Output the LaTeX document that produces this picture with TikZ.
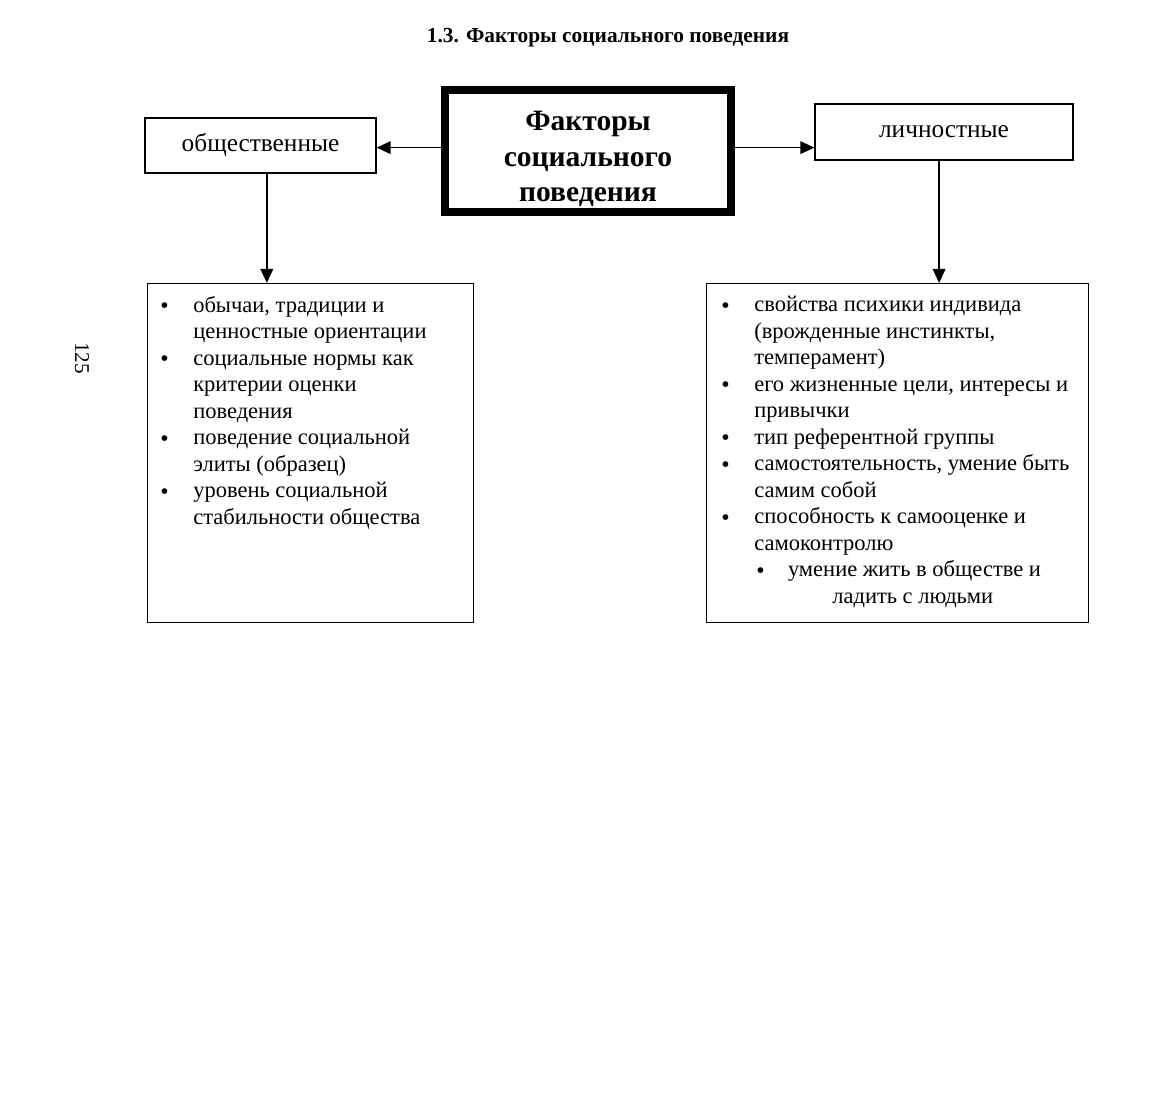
\documentclass[tikz,border=0pt]{standalone}
\usepackage{fontspec}
\setmainfont{Liberation Serif}
\usetikzlibrary{arrows.meta}

\newcommand{\bul}{\llap{\smash{\fontsize{17}{18}\selectfont\raisebox{-1pt}{\textbullet}}\hspace{17.5pt}}}
\newcommand{\subbul}{\llap{\smash{\fontsize{17}{18}\selectfont\raisebox{-1pt}{\textbullet}}\hspace{16.5pt}}}

\tikzset{
  box/.style={draw, line width=0.8pt, inner sep=0pt},
  items/.style={anchor=north west, align=left, inner sep=0pt, font=\fontsize{16}{18.85}\selectfont},
  arr/.style={line width=1pt, -{Triangle[length=10pt,width=9pt]}},
}

\begin{document}
\begin{tikzpicture}[x=0.025cm, y=-0.025cm]
\useasboundingbox (0,0) rectangle (1165,1096);

\draw (608,38) node (title) {\fontsize{15.2}{18}\selectfont\bfseries 1.3. Факторы социального поведения};
\draw (82,358) node[rotate=-90, font=\fontsize{15}{18}\selectfont] (pagenum) {125};

\draw (588,151) node[draw, line width=5.7pt, minimum width=7.15cm, minimum height=3.05cm] (factors) {};
\draw (588,159) node[align=center, font=\fontsize{21}{25}\selectfont\bfseries] (factorsLabel) {Факторы\\социального\\поведения};
\draw (260.5,145.5) node[box, minimum width=5.775cm, minimum height=1.375cm, font=\fontsize{18}{21}\selectfont] (social) {\raisebox{-1.5pt}{общественные}};
\draw (944,132) node[box, minimum width=6.45cm, minimum height=1.4cm, font=\fontsize{18}{21}\selectfont] (personal) {\raisebox{-1.5pt}{личностные}};

\draw (147,283) node[box, anchor=north west, minimum width=8.15cm, minimum height=8.475cm] (socialList) {};
\draw (706,283) node[box, anchor=north west, minimum width=9.55cm, minimum height=8.475cm] (personalList) {};

\draw[arr] ([yshift=-1.5pt]factors.west |- social.east) -- ([yshift=-1.5pt]social.east);
\draw[arr] ([yshift=-1.5pt]factors.east |- social.east) -- ([yshift=-1.5pt]personal.west |- social.east);
\draw[arr] ([xshift=4.5pt]social.south) -- ([xshift=4.5pt]social.south |- socialList.north);
\draw[arr] ([xshift=-3.5pt]personal.south) -- ([xshift=-3.5pt]personal.south |- personalList.north);

\draw (193,296) node[items] (socialItems) {\bul обычаи, традиции и\\
ценностные ориентации\\
\bul социальные нормы как\\
критерии оценки\\
поведения\\
\bul поведение социальной\\
элиты (образец)\\
\bul уровень социальной\\
стабильности общества};

\draw (754,296) node[items] (personalItems) {\bul свойства психики индивида\\
(врожденные инстинкты,\\
темперамент)\\
\bul его жизненные цели, интересы и\\
привычки\\
\bul тип референтной группы\\
\bul самостоятельность, умение быть\\
самим собой\\
\bul способность к самооценке и\\
самоконтролю\\
\hspace*{24pt}\subbul умение жить в обществе и\\
\hspace*{55.5pt}ладить с людьми};
\end{tikzpicture}
\end{document}
